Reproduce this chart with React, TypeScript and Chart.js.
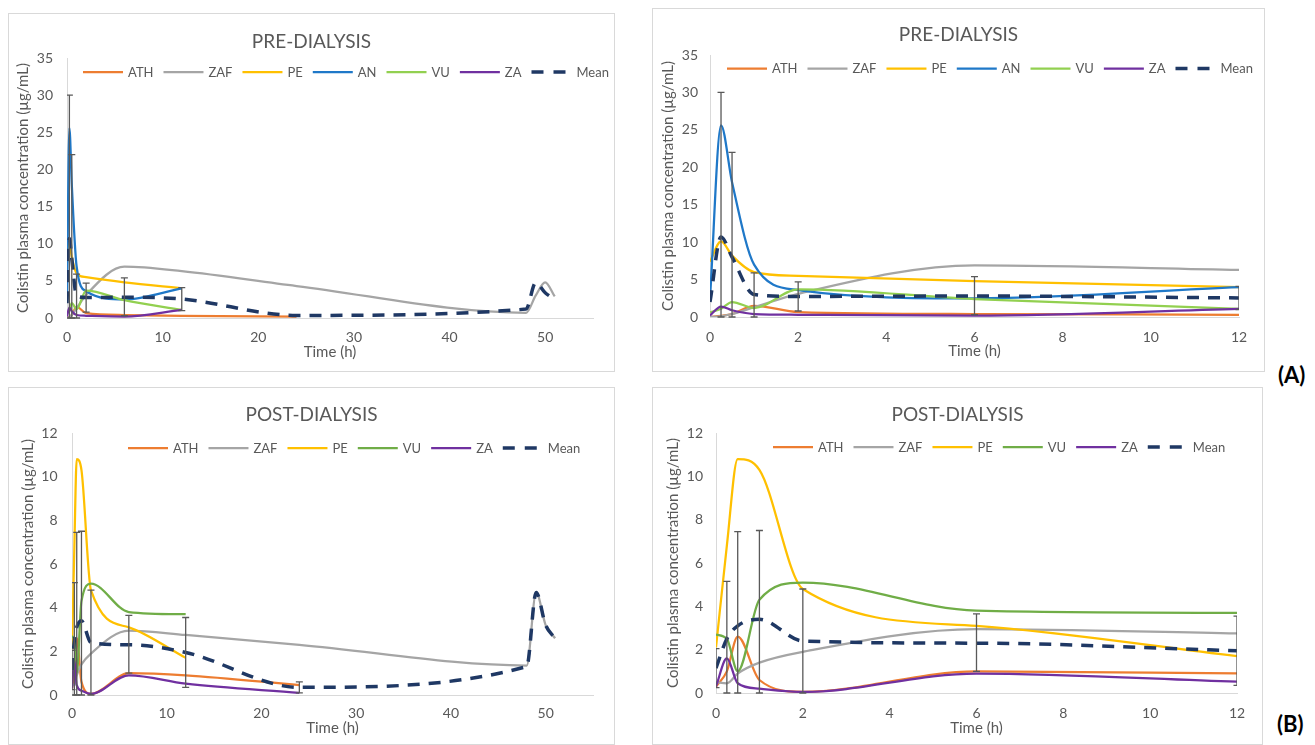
import React, { useEffect, useRef } from "react";
import { Chart, registerables } from "chart.js";

Chart.register(...registerables);

const FONT = "Lato, 'Noto Sans', 'DejaVu Sans', sans-serif";
const TEXT_COLOR = "#595959";

// Sampling times (h)
const TIMES = [0, 0.25, 0.5, 1, 2, 6, 12, 24, 48, 49, 50, 51];

// Tick labels
const X_TICKS_LONG = [0, 10, 20, 30, 40, 50];
const X_TICKS_SHORT = [0, 2, 4, 6, 8, 10, 12];
const Y_TICKS_PRE = [0, 5, 10, 15, 20, 25, 30, 35];
const Y_TICKS_POST = [0, 2, 4, 6, 8, 10, 12];

// PRE-DIALYSIS (µg/mL)
const PRE_ATH = [0, 0.15, 0.4, 1.5, 0.65, 0.4, 0.3, 0.2, null, null, null, null];
const PRE_ZAF = [0, 0.1, 0.4, 1.3, 3.1, 6.9, 6.3, 4.3, 0.7, 3.0, 4.8, 2.9];
const PRE_PE = [7.4, 10.1, 8.2, 6.0, 5.5, 4.8, 4.0, null, null, null, null, null];
const PRE_AN = [2.5, 25.6, 18.0, 7.0, 3.6, 2.5, 4.0, null, null, null, null, null];
const PRE_VU = [0.6, 1.1, 2.0, 1.2, 3.7, 2.4, 1.1, null, null, null, null, null];
const PRE_ZA = [0.2, 1.4, 0.9, 0.4, 0.3, 0.2, 1.1, null, null, null, null, null];
const PRE_MEAN = [2.0, 10.7, 8.0, 3.0, 2.75, 2.8, 2.55, 0.35, 1.2, 4.75, 3.4, 2.5];
const PRE_ERR_LOW = [null, 0, 0, 0, 0.8, 0.3, 1.0, null, null, null, null, null];
const PRE_ERR_HIGH = [null, 30, 22, 5.9, 4.7, 5.4, 4.1, null, null, null, null, null];

// POST-DIALYSIS (µg/mL)
const POST_ATH = [0.3, 1.0, 2.6, 0.6, 0.05, 1.0, 0.9, 0.45, null, null, null, null];
const POST_ZAF = [0.5, 0.45, 0.9, 1.4, 1.9, 2.95, 2.75, 2.3, 1.35, 4.7, 3.2, 2.6];
const POST_PE = [2.1, 6.8, 10.8, 10.3, 4.8, 3.1, 1.7, null, null, null, null, null];
const POST_VU = [2.7, 2.5, 1.0, 4.3, 5.1, 3.8, 3.7, null, null, null, null, null];
const POST_ZA = [0.3, 1.6, 0.45, 0.2, 0.05, 0.9, 0.52, 0.1, null, null, null, null];
const POST_MEAN = [1.15, 2.5, 3.1, 3.4, 2.4, 2.3, 1.95, 0.35, 1.3, 4.7, 3.2, 2.6];
const POST_ERR_LOW = [0.25, 0, 0, 0, 0, 1.0, 0.35, 0.1, null, null, null, null];
const POST_ERR_HIGH = [2.05, 5.15, 7.45, 7.5, 4.8, 3.65, 3.55, 0.6, null, null, null, null];

type Series = { label: string; values: (number | null)[]; color: string; dashed?: boolean };

const PRE_SERIES: Series[] = [
  { label: "ATH", values: PRE_ATH, color: "#ED7D31" },
  { label: "ZAF", values: PRE_ZAF, color: "#A5A5A5" },
  { label: "PE", values: PRE_PE, color: "#FFC000" },
  { label: "AN", values: PRE_AN, color: "#1F78C8" },
  { label: "VU", values: PRE_VU, color: "#92D050" },
  { label: "ZA", values: PRE_ZA, color: "#7030A0" },
  { label: "Mean", values: PRE_MEAN, color: "#1F3864", dashed: true },
];

const POST_SERIES: Series[] = [
  { label: "ATH", values: POST_ATH, color: "#ED7D31" },
  { label: "ZAF", values: POST_ZAF, color: "#A5A5A5" },
  { label: "PE", values: POST_PE, color: "#FFC000" },
  { label: "VU", values: POST_VU, color: "#70AD47" },
  { label: "ZA", values: POST_ZA, color: "#7030A0" },
  { label: "Mean", values: POST_MEAN, color: "#1F3864", dashed: true },
];

type PanelCfg = {
  box: { left: number; top: number; width: number; height: number };
  plot: { l: number; t: number; r: number; b: number };
  xMax: number;
  xTicks: number[];
  yMax: number;
  yTicks: number[];
  title: string;
  titleY: number;
  legendX: number;
  legendY: number;
  yTitlePad: number;
  xTitlePad: number;
  xTickPad: number;
  yTickPad: number;
  series: Series[];
  errLow: (number | null)[];
  errHigh: (number | null)[];
};

const PANELS: PanelCfg[] = [
  {
    box: { left: 8, top: 13, width: 607, height: 359 },
    plot: { l: 67, t: 58, r: 593, b: 318 },
    xMax: 55, xTicks: X_TICKS_LONG, yMax: 35, yTicks: Y_TICKS_PRE,
    title: "PRE-DIALYSIS", titleY: 42, legendX: 83, legendY: 72,
    yTitlePad: 5, xTitlePad: 10, xTickPad: 11, yTickPad: 14,
    series: PRE_SERIES, errLow: PRE_ERR_LOW, errHigh: PRE_ERR_HIGH,
  },
  {
    box: { left: 652, top: 8, width: 613, height: 364 },
    plot: { l: 710, t: 55, r: 1239, b: 317 },
    xMax: 12, xTicks: X_TICKS_SHORT, yMax: 35, yTicks: Y_TICKS_PRE,
    title: "PRE-DIALYSIS", titleY: 35, legendX: 727, legendY: 68.5,
    yTitlePad: 6, xTitlePad: 11, xTickPad: 12, yTickPad: 12,
    series: PRE_SERIES, errLow: PRE_ERR_LOW, errHigh: PRE_ERR_HIGH,
  },
  {
    box: { left: 8, top: 387, width: 607, height: 358 },
    plot: { l: 72, t: 433, r: 593, b: 695 },
    xMax: 55, xTicks: X_TICKS_LONG, yMax: 12, yTicks: Y_TICKS_POST,
    title: "POST-DIALYSIS", titleY: 415, legendX: 128, legendY: 448,
    yTitlePad: 10.5, xTitlePad: 7, xTickPad: 10.5, yTickPad: 14.5,
    series: POST_SERIES, errLow: POST_ERR_LOW, errHigh: POST_ERR_HIGH,
  },
  {
    box: { left: 652, top: 387, width: 611, height: 358 },
    plot: { l: 716, t: 433, r: 1237, b: 693 },
    xMax: 12, xTicks: X_TICKS_SHORT, yMax: 12, yTicks: Y_TICKS_POST,
    title: "POST-DIALYSIS", titleY: 415, legendX: 773, legendY: 447,
    yTitlePad: 11, xTitlePad: 7, xTickPad: 12, yTickPad: 13,
    series: POST_SERIES, errLow: POST_ERR_LOW, errHigh: POST_ERR_HIGH,
  },
];

function makeErrorBarPlugin(low: (number | null)[], high: (number | null)[], xMax: number) {
  return {
    id: "errorBars",
    afterDatasetsDraw(chart: any) {
      const { ctx, chartArea, scales } = chart;
      const xs = scales.x;
      const ys = scales.y;
      ctx.save();
      ctx.beginPath();
      ctx.rect(chartArea.left, 0, chartArea.right - chartArea.left, chart.height);
      ctx.clip();
      ctx.strokeStyle = "#595959";
      ctx.lineWidth = 1.3;
      ctx.setLineDash([]);
      TIMES.forEach((t, i) => {
        const lo = low[i];
        const hi = high[i];
        if (lo == null || hi == null || t > xMax) return;
        const px = xs.getPixelForValue(t);
        const pl = ys.getPixelForValue(lo);
        const ph = ys.getPixelForValue(hi);
        ctx.beginPath();
        ctx.moveTo(px, pl);
        ctx.lineTo(px, ph);
        ctx.moveTo(px - 3.5, pl);
        ctx.lineTo(px + 3.5, pl);
        ctx.moveTo(px - 3.5, ph);
        ctx.lineTo(px + 3.5, ph);
        ctx.stroke();
      });
      ctx.restore();
    },
  };
}

function makeOverlayPlugin(title: string, titleY: number, legendX: number, legendY: number) {
  return {
    id: "overlayTitleLegend",
    afterDraw(chart: any) {
      const ctx = chart.ctx;
      ctx.save();
      ctx.fillStyle = TEXT_COLOR;
      ctx.font = `19px ${FONT}`;
      ctx.textAlign = "center";
      ctx.textBaseline = "middle";
      ctx.fillText(title, chart.width / 2, titleY);

      ctx.font = `13px ${FONT}`;
      const LINE = 40, GAP1 = 5, GAP2 = 10;
      let x = legendX;
      ctx.textAlign = "left";
      chart.data.datasets.forEach((ds: any) => {
        const w = ctx.measureText(ds.label).width;
        ctx.beginPath();
        ctx.strokeStyle = ds.borderColor;
        ctx.lineWidth = ds.borderWidth;
        ctx.setLineDash(ds.borderDash && ds.borderDash.length ? [12, 10] : []);
        ctx.moveTo(x, legendY);
        ctx.lineTo(x + LINE, legendY);
        ctx.stroke();
        ctx.setLineDash([]);
        ctx.fillStyle = TEXT_COLOR;
        ctx.fillText(ds.label, x + LINE + GAP1, legendY + 0.5);
        x += LINE + GAP1 + w + GAP2;
      });
      ctx.restore();
    },
  };
}

function Panel({ cfg }: { cfg: PanelCfg }) {
  const ref = useRef<HTMLCanvasElement | null>(null);
  const cl = cfg.box.left + 1;
  const ct = cfg.box.top + 1;
  const cw = cfg.box.width - 2;
  const ch = cfg.box.height - 2;

  useEffect(() => {
    const canvas = ref.current;
    if (!canvas) return;
    const n = cfg.series.length;
    const yWidth = cfg.plot.l - cl;
    const xHeight = ct + ch - cfg.plot.b;
    const chart = new Chart(canvas, {
      type: "line",
      data: {
        datasets: cfg.series.map((s, i) => ({
          label: s.label,
          data: TIMES.map((t, j) => ({ x: t, y: s.values[j] })).filter((p) => p.x <= cfg.xMax),
          borderColor: s.color,
          backgroundColor: s.color,
          borderWidth: s.dashed ? 3.5 : 2.25,
          borderDash: s.dashed ? [12, 9] : [],
          pointRadius: 0,
          pointHoverRadius: 0,
          cubicInterpolationMode: "monotone",
          fill: false,
          order: n - 1 - i,
        })),
      } as any,
      options: {
        responsive: false,
        animation: false,
        devicePixelRatio: 1,
        events: [],
        layout: { padding: { left: 0, top: cfg.plot.t - ct, right: cl + cw - cfg.plot.r, bottom: 0 } },
        plugins: { legend: { display: false }, title: { display: false }, tooltip: { enabled: false } },
        scales: {
          x: {
            type: "linear",
            min: 0,
            max: cfg.xMax,
            afterBuildTicks: (scale: any) => {
              scale.ticks = cfg.xTicks.map((v) => ({ value: v }));
            },
            afterFit: (scale: any) => {
              scale.height = xHeight;
            },
            grid: { display: false, drawTicks: false },
            border: { display: true, color: "#D9D9D9", width: 1 },
            ticks: { color: TEXT_COLOR, font: { family: FONT, size: 14 }, padding: cfg.xTickPad, maxRotation: 0 },
            title: {
              display: true,
              text: "Time (h)",
              color: TEXT_COLOR,
              font: { family: FONT, size: 15 },
              padding: { top: 0, bottom: cfg.xTitlePad },
            },
          },
          y: {
            type: "linear",
            min: 0,
            max: cfg.yMax,
            afterBuildTicks: (scale: any) => {
              scale.ticks = cfg.yTicks.map((v) => ({ value: v }));
            },
            afterFit: (scale: any) => {
              scale.width = yWidth;
            },
            grid: { display: false, drawTicks: false },
            border: { display: true, color: "#D9D9D9", width: 1 },
            ticks: { color: TEXT_COLOR, font: { family: FONT, size: 14 }, padding: cfg.yTickPad },
            title: {
              display: true,
              text: "Colistin plasma concentration (µg/mL)",
              color: TEXT_COLOR,
              font: { family: FONT, size: 15 },
              padding: { top: cfg.yTitlePad, bottom: 0 },
            },
          },
        },
      } as any,
      plugins: [
        makeErrorBarPlugin(cfg.errLow, cfg.errHigh, cfg.xMax),
        makeOverlayPlugin(cfg.title, cfg.titleY - ct, cfg.legendX - cl, cfg.legendY - ct),
      ],
    });
    return () => chart.destroy();
  }, []);

  return (
    <div
      style={{
        position: "absolute",
        left: cfg.box.left,
        top: cfg.box.top,
        width: cfg.box.width,
        height: cfg.box.height,
        border: "1px solid #D9D9D9",
        boxSizing: "border-box",
        background: "#fff",
      }}
    >
      <canvas ref={ref} width={cw} height={ch} style={{ display: "block", width: cw, height: ch }} />
    </div>
  );
}

export default function App() {
  return (
    <div style={{ position: "fixed", left: 0, top: 0, width: 1315, height: 745, background: "#fff", overflow: "hidden" }}>
      {PANELS.map((p, i) => (
        <Panel key={i} cfg={p} />
      ))}
      <div style={{ position: "absolute", left: 1278, top: 362, fontFamily: FONT, fontWeight: 700, fontSize: 22, color: "#000", lineHeight: "26px" }}>
        (A)
      </div>
      <div style={{ position: "absolute", left: 1277, top: 711, fontFamily: FONT, fontWeight: 700, fontSize: 22, color: "#000", lineHeight: "26px" }}>
        (B)
      </div>
    </div>
  );
}
